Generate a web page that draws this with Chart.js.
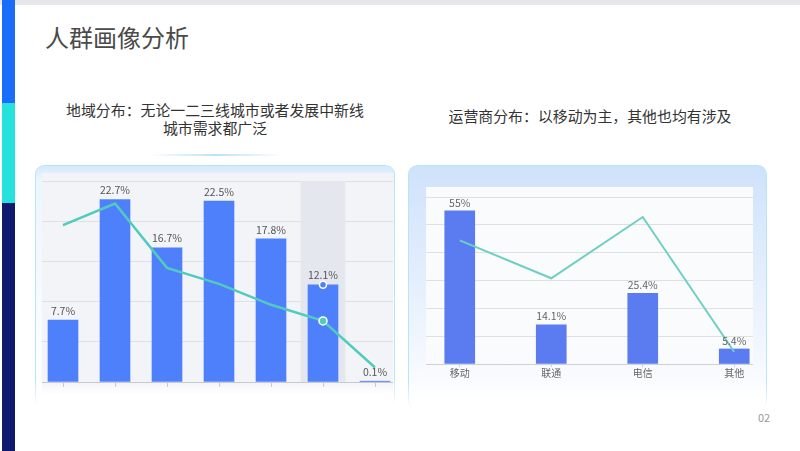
<!DOCTYPE html>
<html>
<head>
<meta charset="utf-8">
<script src="https://cdn.jsdelivr.net/npm/chart.js@4.4.1/dist/chart.umd.min.js"></script>
<style>
  html, body { margin: 0; padding: 0; }
  body { width: 800px; height: 451px; position: relative; overflow: hidden; background: #fff;
         font-family: "Noto Sans CJK SC", "Noto Sans", sans-serif; color: #333; }
  .abs { position: absolute; }
  .topband { left: 0; top: 0; width: 800px; height: 5px; background: #e6e7eb; }
  .strip1 { left: 2px; top: 0; width: 13px; height: 103px; background: #1a6dfb; }
  .strip2 { left: 2px; top: 103px; width: 13px; height: 100px; background: #26e1dc; }
  .strip3 { left: 2px; top: 203px; width: 13px; height: 248px; background: #0f1a6e; }
  .title { left: 45px; top: 21px; font-size: 24px; color: #4a4a4a; line-height: 32px; }
  .sub { font-size: 14.9px; line-height: 18px; text-align: center; color: #333; }
  .deco { left: 150px; top: 154px; width: 132px; height: 2px;
          background: linear-gradient(90deg, rgba(180,225,245,0), #b9e3f6, rgba(180,225,245,0)); }
  .panel { border: 1px solid #b6e6f4; border-bottom: none; border-radius: 9px; box-sizing: border-box;
           -webkit-mask-image: linear-gradient(180deg, #000 88%, rgba(0,0,0,0) 100%); }
  .clip { overflow: hidden; }
  .box { position: absolute; }
  .page { left: 758px; top: 409px; font-size: 11px; color: #999; }
</style>
</head>
<body>
<div class="abs topband"></div>
<div class="abs strip1"></div>
<div class="abs strip2"></div>
<div class="abs strip3"></div>
<div class="abs title">人群画像分析</div>
<div class="abs sub" style="left:55px;top:101px;width:320px;">地域分布：无论一二三线城市或者发展中新线<br>城市需求都广泛</div>
<div class="abs sub" style="left:420px;top:107px;width:340px;">运营商分布：以移动为主，其他也均有涉及</div>
<div class="abs deco"></div>

<div class="abs panel" style="left:35px;top:165px;width:360px;height:242px;background:linear-gradient(180deg,#d7e8fc 0%,#eef5fe 6%,#fff 100%);"></div>
<div class="abs clip" style="left:42px;top:173px;width:351px;height:222px;background:linear-gradient(180deg,#f3f4f7 0%,#f3f4f7 94%,#fff 100%);">
  <div class="box" style="left:-4.7px;top:2px;width:364px;height:212px;"><canvas id="regionChart"></canvas></div>
</div>

<div class="abs panel" style="left:408px;top:165px;width:359px;height:245px;background:linear-gradient(180deg,#cfe2fb 0%,#e3eefd 45%,#fff 100%);"></div>
<div class="abs clip" style="left:426px;top:187px;width:327px;height:195px;background:linear-gradient(180deg,#fafbfc 0%,#fafbfc 85%,rgba(250,251,252,0) 100%);">
  <div class="box" style="left:-12.3px;top:3px;width:366px;height:189px;"><canvas id="carrierChart"></canvas></div>
</div>

<div class="abs page">02</div>

<script>
// 地域分布
const regionLabels = ["一线城市", "新一线城市", "二线城市", "三线城市", "四线城市", "五线城市", "其他"];
const regionShare = [7.7, 22.7, 16.7, 22.5, 17.8, 12.1, 0.1];
const regionTrend = [19.5, 22.2, 14.2, 12.2, 9.6, 7.6, 1.8];
const regionTicks = [0, 5, 10, 15, 20, 25];
const regionActive = 5;

// 运营商分布
const carrierLabels = ["移动", "联通", "电信", "其他"];
const carrierShare = [55, 14.1, 25.4, 5.4];
const carrierTrend = [44.4, 30.8, 52.8, 4.3];
const carrierTicks = [0, 10, 20, 30, 40, 50, 60];

const fontFamily = '"Noto Sans CJK SC", "Noto Sans", sans-serif';

// 柱顶百分比标签
const barLabels = {
  id: 'barLabels',
  afterDatasetsDraw(chart, args, opts) {
    const ctx = chart.ctx;
    const meta = chart.getDatasetMeta(0);
    ctx.save();
    ctx.font = '10.5px ' + fontFamily;
    ctx.fillStyle = opts.color || '#555';
    ctx.textAlign = 'center';
    ctx.textBaseline = 'bottom';
    meta.data.forEach((bar, i) => {
      ctx.fillText(chart.data.datasets[0].data[i] + '%', bar.x, bar.y - (opts.gap || 4));
    });
    ctx.restore();
  }
};

// 悬停阴影 + 柱顶圆点
const hoverShadow = {
  id: 'hoverShadow',
  beforeDatasetsDraw(chart, args, opts) {
    if (opts.index == null) return;
    const x = chart.scales.x.getPixelForValue(opts.index);
    const a = chart.chartArea;
    chart.ctx.save();
    chart.ctx.fillStyle = '#e4e7ee';
    chart.ctx.fillRect(x - 22.5, a.top, 45, a.bottom - a.top);
    chart.ctx.restore();
  },
  afterDraw(chart, args, opts) {
    if (opts.index == null) return;
    const bar = chart.getDatasetMeta(0).data[opts.index];
    const ctx = chart.ctx;
    ctx.save();
    ctx.beginPath();
    ctx.arc(bar.x, bar.y, 3.5, 0, Math.PI * 2);
    ctx.fillStyle = '#4f80fb';
    ctx.fill();
    ctx.lineWidth = 1.5;
    ctx.strokeStyle = '#fff';
    ctx.stroke();
    ctx.restore();
  }
};

new Chart(document.getElementById('regionChart'), {
  type: 'bar',
  data: {
    labels: regionLabels,
    datasets: [
      { type: 'bar', data: regionShare, backgroundColor: '#4f80fb', barThickness: 30, order: 1 },
      { type: 'line', data: regionTrend, borderColor: '#52cbbf', borderWidth: 2.5, tension: 0,
        pointRadius: regionTrend.map((v, i) => i === regionActive ? 4 : 0),
        pointBackgroundColor: '#52cbbf', pointBorderColor: '#fff', pointBorderWidth: 1.5, order: 0 }
    ]
  },
  options: {
    responsive: true,
    maintainAspectRatio: false,
    animation: false,
    layout: { padding: { top: 6, left: 0, right: 0, bottom: 0 } },
    plugins: { legend: { display: false }, tooltip: { enabled: false },
               barLabels: { color: '#555', gap: 4 }, hoverShadow: { index: regionActive } },
    scales: {
      x: {
        grid: { offset: false, drawOnChartArea: false, drawTicks: true, tickLength: 5, color: '#c8c9cc' },
        border: { display: true, color: '#c8c9cc' },
        ticks: { display: false }
      },
      y: {
        min: regionTicks[0], max: regionTicks[regionTicks.length - 1],
        afterBuildTicks: s => { s.ticks = regionTicks.map(v => ({ value: v })); },
        grid: { color: '#dfe0e3', drawTicks: false },
        border: { display: false },
        ticks: { display: false }
      }
    }
  },
  plugins: [hoverShadow, barLabels]
});

new Chart(document.getElementById('carrierChart'), {
  type: 'bar',
  data: {
    labels: carrierLabels,
    datasets: [
      { type: 'bar', data: carrierShare, backgroundColor: '#5b7cf0', barThickness: 30, order: 1 },
      { type: 'line', data: carrierTrend, borderColor: '#6dcfc4', borderWidth: 2, tension: 0,
        pointRadius: 0, order: 0 }
    ]
  },
  options: {
    responsive: true,
    maintainAspectRatio: false,
    animation: false,
    layout: { padding: { top: 7, left: 0, right: 0, bottom: 0 } },
    plugins: { legend: { display: false }, tooltip: { enabled: false },
               barLabels: { color: '#666', gap: 3 } },
    scales: {
      x: {
        grid: { offset: false, drawOnChartArea: false, drawTicks: true, tickLength: 3, color: '#d0d1d4' },
        border: { display: true, color: '#cfd0d3' },
        ticks: { color: '#666', padding: 0, font: { size: 10, family: fontFamily } }
      },
      y: {
        min: carrierTicks[0], max: carrierTicks[carrierTicks.length - 1],
        afterBuildTicks: s => { s.ticks = carrierTicks.map(v => ({ value: v })); },
        grid: { color: '#dfe0e3', drawTicks: false },
        border: { display: false },
        ticks: { display: false }
      }
    }
  },
  plugins: [barLabels]
});
</script>
</body>
</html>
